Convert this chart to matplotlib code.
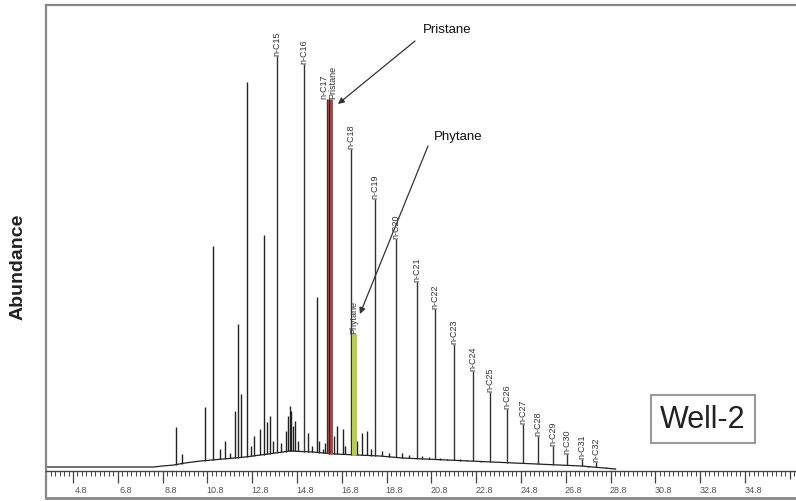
import matplotlib
matplotlib.use("Agg")
import matplotlib.pyplot as plt
import numpy as np
from matplotlib.transforms import ScaledTranslation

plt.rcParams['font.family'] = ['Liberation Sans', 'DejaVu Sans']

# n-alkane peaks (retention time, min / abundance)
alk_names = ['n-C15', 'n-C16', 'n-C17', 'n-C18', 'n-C19', 'n-C20', 'n-C21', 'n-C22',
             'n-C23', 'n-C24', 'n-C25', 'n-C26', 'n-C27', 'n-C28', 'n-C29', 'n-C30',
             'n-C31', 'n-C32']
alk_t = [13.91, 15.11, 16.16, 17.21, 18.28, 19.22, 20.16, 20.96, 21.81, 22.66, 23.42,
         24.18, 24.89, 25.56, 26.23, 26.85, 27.52, 28.15]
alk_h = [415, 407, 372, 322, 272, 232, 189, 162, 127, 100, 79, 62, 47, 35, 25, 17, 12, 9]

# isoprenoids
pr_t, pr_h = 16.27, 372
ph_t, ph_h = 17.34, 137

# other unlabelled peaks
other_t = [9.40, 9.67, 10.69, 11.05, 11.36, 11.60, 11.80, 12.05, 12.17, 12.30, 12.57,
           12.75, 12.90, 13.15, 13.33, 13.46, 13.60, 13.75, 14.10, 14.30, 14.42, 14.49,
           14.55, 14.62, 14.70, 14.85, 15.30, 15.45, 15.69, 15.80, 15.95, 16.05, 16.45,
           16.60, 16.85, 16.95, 17.50, 17.70, 17.93, 18.10, 18.60, 18.90, 19.50, 19.80,
           20.40, 20.70, 21.20, 21.50, 22.10, 22.40, 23.00, 23.80, 24.50, 25.20, 25.90,
           26.50, 27.20, 27.80, 28.60, 29.00]
other_h = [44, 17, 64, 225, 22, 30, 18, 60, 147, 77, 389,
           25, 35, 42, 236, 49, 55, 30, 28, 40, 55, 65,
           60, 45, 50, 30, 38, 25, 174, 30, 22, 28, 35,
           45, 42, 25, 30, 38, 40, 22, 20, 18, 18, 16,
           15, 14, 13, 12, 12, 11, 10, 9, 8, 7, 7,
           6, 5, 5, 4, 3]

# unresolved baseline hump
hump_t = [3.6, 8.4, 8.8, 9.3, 9.8, 10.5, 11.5, 12.5, 13.5, 14.5, 15.5, 16.5, 17.5, 18.5,
          19.5, 20.5, 21.5, 22.5, 23.5, 24.5, 25.5, 26.5, 27.5, 28.5, 29.0]
hump_h = [4, 4, 5, 6, 8, 10, 12, 14, 17, 20, 19, 17, 16, 15, 13, 12, 11, 10, 9, 8, 7, 6,
          5, 3, 2]

fig = plt.figure(figsize=(7.96, 5.02), dpi=100)
ax = fig.add_axes([46 / 796, 3 / 502, 750 / 796, 493 / 502])
ax.set_xlim(3.595, 37.08)
ax.set_ylim(-27, 466)

peak_col = '#222222'
base = lambda t: np.interp(t, hump_t, hump_h)

ax.plot(hump_t, hump_h, color=peak_col, lw=0.9)
ax.vlines(other_t, base(np.array(other_t)), other_h, color=peak_col, lw=1.0)
ax.vlines(alk_t, base(np.array(alk_t)), alk_h, color='#333333', lw=1.0)

# pristane / phytane bars
ax.vlines([pr_t], base(pr_t), pr_h, color='#9a4a45', lw=3.5)
ax.vlines([ph_t], base(ph_t), ph_h, color='#b8c85a', lw=3.5)
ax.vlines([pr_t - 0.06], base(pr_t), pr_h, color='#222222', lw=0.8)

for name, t, h in zip(alk_names, alk_t, alk_h):
    dx = -0.16 if name == 'n-C17' else 0
    ax.text(t + dx, h + 1, name, rotation=90, ha='center', va='bottom', fontsize=6.5,
            color='#333333')
ax.text(pr_t + 0.12, pr_h + 1, 'Pristane', rotation=90, ha='center', va='bottom',
        fontsize=6.5, color='#333333')
ax.text(ph_t, ph_h + 1, 'Phytane', rotation=90, ha='center', va='bottom', fontsize=6.5,
        color='#333333')

arrow = dict(arrowstyle='-|>', color='#333333', lw=0.9, shrinkA=0, shrinkB=0,
             mutation_scale=9)
ax.annotate('', xy=(16.63, 367), xytext=(20.07, 430), arrowprops=arrow)
ax.text(21.5, 442, 'Pristane', ha='center', va='center', fontsize=9.5, color='#111111')
ax.annotate('', xy=(17.61, 157), xytext=(20.65, 325), arrowprops=arrow)
ax.text(21.99, 335, 'Phytane', ha='center', va='center', fontsize=9.5, color='#111111')

ax.text(32.93, 52, 'Well-2', ha='center', va='center', fontsize=22, color='#222222',
        bbox=dict(boxstyle='square,pad=0.3', fc='white', ec='#9a9a9a', lw=1.5))

# axis frame
for side in ['left', 'top']:
    ax.spines[side].set_color('#888888')
    ax.spines[side].set_linewidth(1.6)
ax.spines['right'].set_visible(False)
ax.spines['bottom'].set_position(('data', 0))
ax.spines['bottom'].set_color('#444444')
ax.spines['bottom'].set_linewidth(1.0)
ax.plot([0, 1], [0, 0], transform=ax.transAxes, color='#888888', lw=2.0, clip_on=False)

ax.set_yticks([])
major = np.arange(4.8, 35.0, 2.0)
minor = np.arange(3.6, 37.1, 0.2)
ax.set_xticks(major)
ax.set_xticklabels(['%.1f' % v for v in major])
ax.set_xticks(minor, minor=True)
ax.tick_params(axis='x', which='major', direction='out', length=8.5, width=0.9,
               color='#444444', labelsize=6.5, labelcolor='#555555', pad=1.5)
ax.tick_params(axis='x', which='minor', direction='out', length=3.8, width=0.7,
               color='#444444')
# long tick at 36.8 without a label (cut by the edge in the source)
ax.vlines([36.8], -8, 0, color='#444444', lw=0.9, clip_on=False)
off = ScaledTranslation(0.08, 0, fig.dpi_scale_trans)
for lab in ax.get_xticklabels():
    lab.set_transform(lab.get_transform() + off)

fig.text(18 / 796, 1 - 267 / 502, 'Abundance', rotation=90, ha='center', va='center',
         fontsize=14, fontweight='bold', color='#222222')

fig.savefig('out.png', dpi=100)
